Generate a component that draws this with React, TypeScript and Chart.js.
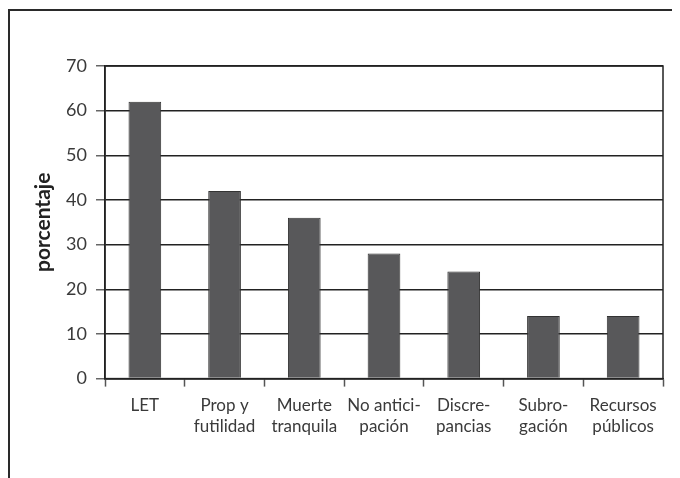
import React, { useEffect, useRef } from "react";
import { Chart, registerables } from "chart.js";

Chart.register(...registerables);

const categories: string[][] = [
  ["LET"],
  ["Prop y", "futilidad"],
  ["Muerte", "tranquila"],
  ["No antici-", "pación"],
  ["Discre-", "pancias"],
  ["Subro-", "gación"],
  ["Recursos", "públicos"],
];
const values: number[] = [62, 42, 36, 28, 24, 14, 14];
const yTitle = "porcentaje";
const yMin = 0;
const yMax = 70;
const yStep = 10;

const frameBorder = {
  id: "frameBorder",
  afterDraw(chart: any) {
    const { ctx, chartArea } = chart;
    ctx.save();
    ctx.strokeStyle = "#222";
    ctx.lineWidth = 1.5;
    ctx.strokeRect(chartArea.left, chartArea.top, chartArea.right - chartArea.left, chartArea.bottom - chartArea.top);
    ctx.restore();
  },
};

export default function App() {
  const ref = useRef<HTMLCanvasElement | null>(null);
  useEffect(() => {
    if (!ref.current) return;
    const chart = new Chart(ref.current, {
      type: "bar",
      data: {
        labels: categories,
        datasets: [
          {
            data: values,
            backgroundColor: "#58585a",
            borderColor: "#333",
            borderWidth: 1,
            categoryPercentage: 1,
            barPercentage: 0.41,
          },
        ],
      },
      options: {
        animation: false,
        responsive: false,
        maintainAspectRatio: false,
        layout: { padding: { left: 23, top: 58, right: 17, bottom: 0 } },
        plugins: { legend: { display: false }, tooltip: { enabled: false } },
        scales: {
          x: {
            offset: true,
            grid: {
              offset: true,
              drawOnChartArea: false,
              drawTicks: true,
              tickLength: 8,
              tickColor: "#555",
              tickWidth: 1.5,
            },
            border: { display: true, color: "#222", width: 1.5 },
            ticks: {
              color: "#3a3a3a",
              padding: 9,
              maxRotation: 0,
              autoSkip: false,
              font: { family: "Lato", size: 17 },
            },
            afterFit(scale: any) {
              scale.height = 99.4;
            },
          },
          y: {
            min: yMin,
            max: yMax,
            grid: {
              color: "#222",
              lineWidth: 1.5,
              drawTicks: true,
              tickLength: 9,
              tickColor: "#666",
              tickWidth: 1.5,
            },
            border: { display: true, color: "#222", width: 1.5 },
            ticks: {
              stepSize: yStep,
              color: "#3a3a3a",
              padding: 9,
              font: { family: "Lato", size: 18 },
            },
            title: {
              display: true,
              text: yTitle,
              color: "#222",
              padding: 0,
              font: { family: "Lato", size: 21, weight: "bold" },
            },
            afterFit(scale: any) {
              scale.width = 74;
            },
          },
        },
      },
      plugins: [frameBorder],
    } as any);
    return () => chart.destroy();
  }, []);

  return (
    <div style={{ position: "relative", width: 672, height: 470, overflow: "hidden" }}>
      <div
        style={{
          position: "absolute",
          left: 0,
          top: 1,
          width: 900,
          height: 900,
          borderTop: "2px solid #2a2a2a",
          borderLeft: "2px solid #2a2a2a",
          boxSizing: "border-box",
        }}
      />
      <canvas ref={ref} width={672} height={470} style={{ position: "absolute", left: 0, top: 0 }} />
    </div>
  );
}
